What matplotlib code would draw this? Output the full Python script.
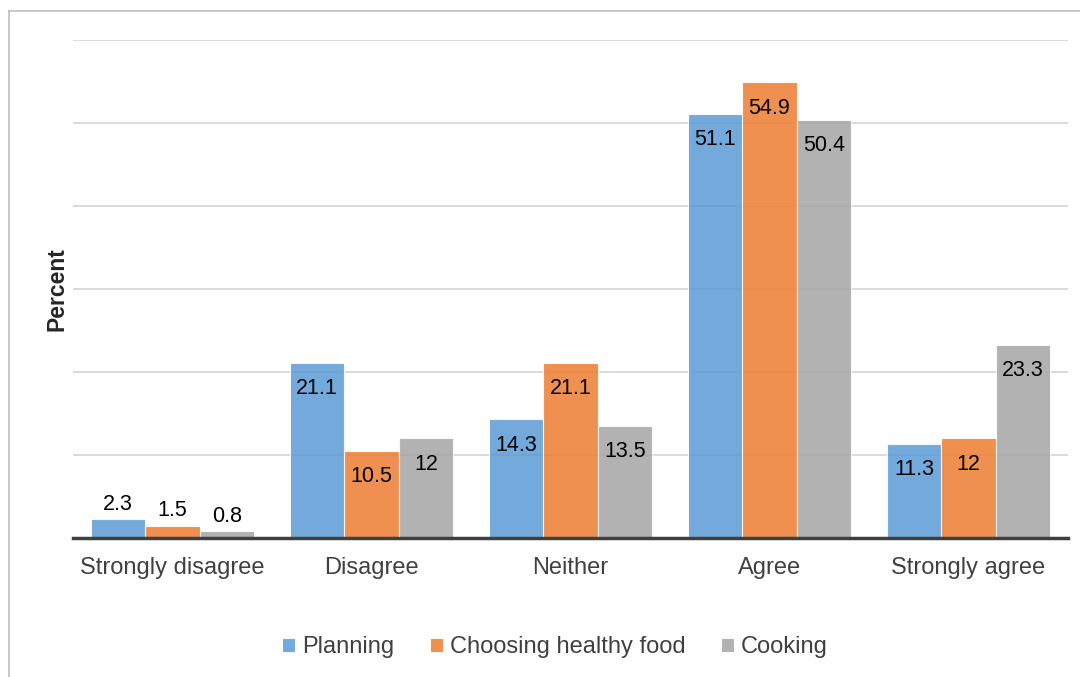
import numpy as np
import matplotlib.pyplot as plt
from matplotlib.lines import Line2D
from matplotlib.patches import Patch

plt.rcParams['font.family'] = ['Liberation Sans', 'DejaVu Sans']

categories = ['Strongly disagree', 'Disagree', 'Neither', 'Agree', 'Strongly agree']
series = ['Planning', 'Choosing healthy food', 'Cooking']
planning = [2.3, 21.1, 14.3, 51.1, 11.3]
healthy_food = [1.5, 10.5, 21.1, 54.9, 12]
cooking = [0.8, 12, 13.5, 50.4, 23.3]
values = [planning, healthy_food, cooking]
colors = ['#5B9BD5', '#ED7D31', '#A5A5A5']

fig = plt.figure(figsize=(10.8, 6.77), dpi=100)
ax = fig.add_axes([73 / 1080, 1 - 538 / 677, 995 / 1080, 498 / 677])

x = np.arange(len(categories))
w = 0.273
for i, (vals, col) in enumerate(zip(values, colors)):
    pos = x + (i - 1) * w
    ax.bar(pos, vals, w, color=col, alpha=0.85, edgecolor='white',
           linewidth=0.8, zorder=3)
    for xp, v in zip(pos, vals):
        if v < 5:
            ax.annotate(f'{v:g}', (xp, v), xytext=(0, 3), textcoords='offset points',
                        ha='center', va='bottom', fontsize=15.5, color='black', zorder=4)
        else:
            ax.annotate(f'{v:g}', (xp, v), xytext=(0, -18.5), textcoords='offset points',
                        ha='center', va='center', fontsize=15.5, color='black', zorder=4)

ax.set_xlim(-0.5, len(categories) - 0.5)
ax.set_ylim(0, 60)
ax.set_yticks(np.arange(0, 61, 10))
ax.set_yticklabels([])
ax.tick_params(axis='y', length=0)
ax.tick_params(axis='x', length=0, pad=14, labelsize=17, labelcolor='#404040')
ax.set_xticks(x)
ax.set_xticklabels(categories)
ax.grid(axis='y', color='#CFCFCF', linewidth=1.1, zorder=0)
for s in ['top', 'right', 'left']:
    ax.spines[s].set_visible(False)
ax.spines['bottom'].set_color('#404040')
ax.spines['bottom'].set_linewidth(2.5)
ax.spines['bottom'].set_zorder(5)
ax.set_ylabel('Percent', fontsize=16.5, fontweight='bold', color='#262626', labelpad=0)

handles = [Patch(facecolor=c, alpha=0.85, edgecolor='white', linewidth=0.8) for c in colors]
fig.legend(handles, series, loc='center', bbox_to_anchor=(555 / 1080, 1 - 647 / 677),
           ncol=3, frameon=False, fontsize=17, handlelength=0.55, handleheight=0.55,
           handletextpad=0.3, columnspacing=1.5, labelcolor='#404040')

# chart area border (left and top edges)
fig.add_artist(Line2D([9 / 1080, 9 / 1080], [0, 1 - 11 / 677], color='#BFBFBF', linewidth=1.2))
fig.add_artist(Line2D([9 / 1080, 1], [1 - 11 / 677, 1 - 11 / 677], color='#BFBFBF', linewidth=1.2))

fig.savefig('out.png', dpi=100)
